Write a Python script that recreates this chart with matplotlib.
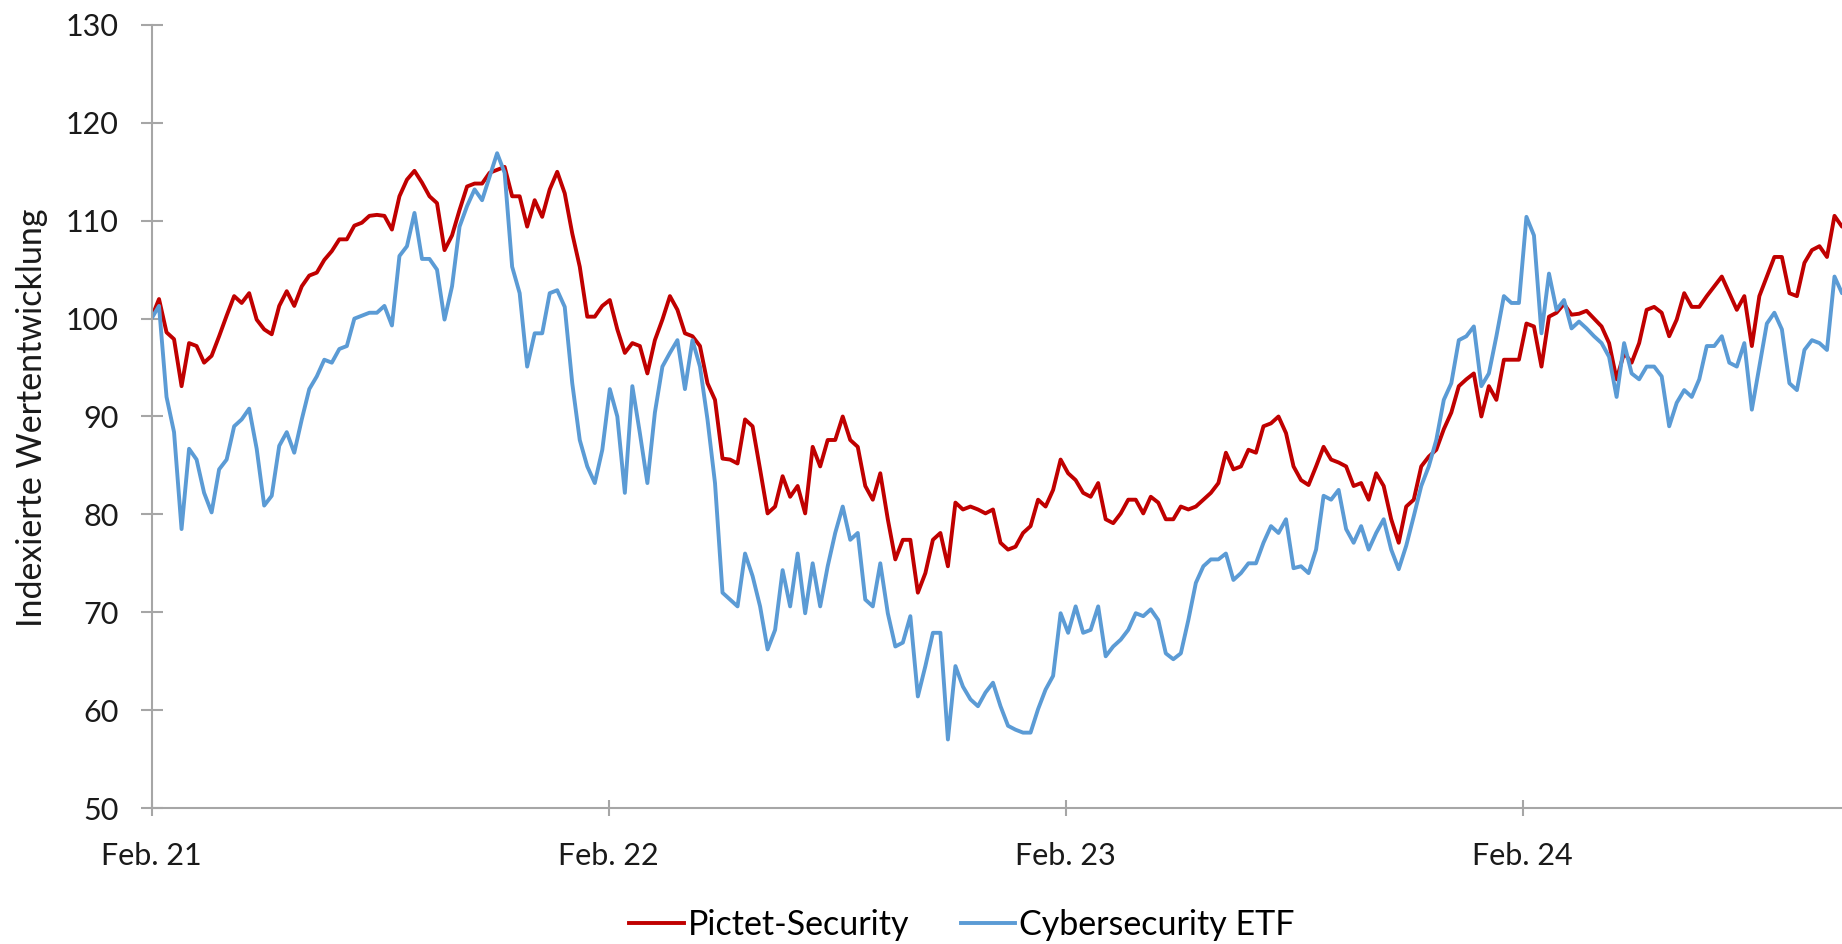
import matplotlib
matplotlib.use("Agg")
import matplotlib.pyplot as plt
import pandas as pd

start_date = "2021-02-01"
step = "6D"

pictet = [100.1, 102.0, 98.6, 97.9, 93.1, 97.5, 97.2, 95.5, 96.2, 98.2,
          100.3, 102.3, 101.6, 102.6, 99.9, 98.9, 98.4, 101.3, 102.8, 101.3,
          103.3, 104.4, 104.7, 106.0, 106.9, 108.1, 108.1, 109.5, 109.8, 110.5,
          110.6, 110.5, 109.1, 112.5, 114.2, 115.1, 113.9, 112.5, 111.8, 107.0,
          108.5, 111.1, 113.5, 113.8, 113.8, 114.9, 115.2, 115.5, 112.5, 112.5,
          109.4, 112.1, 110.4, 113.2, 115.0, 112.8, 108.7, 105.3, 100.2, 100.2,
          101.3, 101.9, 98.9, 96.5, 97.5, 97.2, 94.4, 97.8, 99.9, 102.3,
          100.9, 98.5, 98.2, 97.2, 93.4, 91.7, 85.7, 85.6, 85.2, 89.7,
          89.0, 84.6, 80.1, 80.8, 83.9, 81.8, 82.9, 80.1, 86.9, 84.9,
          87.6, 87.6, 90.0, 87.6, 86.9, 82.9, 81.5, 84.2, 79.5, 75.4,
          77.4, 77.4, 72.0, 74.0, 77.4, 78.1, 74.7, 81.2, 80.5, 80.8,
          80.5, 80.1, 80.5, 77.1, 76.4, 76.7, 78.1, 78.8, 81.5, 80.8,
          82.5, 85.6, 84.2, 83.5, 82.2, 81.8, 83.2, 79.5, 79.1, 80.1,
          81.5, 81.5, 80.1, 81.8, 81.2, 79.5, 79.5, 80.8, 80.5, 80.8,
          81.5, 82.2, 83.2, 86.3, 84.6, 84.9, 86.6, 86.3, 89.0, 89.3,
          90.0, 88.3, 84.9, 83.5, 83.0, 84.9, 86.9, 85.6, 85.3, 84.9,
          82.9, 83.2, 81.5, 84.2, 82.9, 79.5, 77.1, 80.8, 81.5, 84.9,
          85.9, 86.6, 88.7, 90.4, 93.1, 93.8, 94.4, 90.0, 93.1, 91.7,
          95.8, 95.8, 95.8, 99.5, 99.2, 95.1, 100.2, 100.6, 101.5, 100.4,
          100.5, 100.8, 100.0, 99.2, 97.5, 93.8, 96.5, 95.5, 97.5, 100.9,
          101.2, 100.6, 98.2, 99.9, 102.6, 101.2, 101.2, 102.3, 103.3, 104.3,
          102.6, 100.9, 102.3, 97.2, 102.3, 104.3, 106.3, 106.3, 102.6, 102.3,
          105.7, 107.0, 107.4, 106.3, 110.5, 109.4, 109.6]

etf = [100.0, 101.3, 92.0, 88.4, 78.5, 86.7, 85.6, 82.2, 80.2, 84.6,
       85.6, 89.0, 89.7, 90.8, 86.7, 80.9, 81.9, 87.0, 88.4, 86.3,
       89.7, 92.8, 94.1, 95.8, 95.5, 96.9, 97.2, 100.0, 100.3, 100.6,
       100.6, 101.3, 99.3, 106.4, 107.4, 110.8, 106.1, 106.1, 105.0, 99.9,
       103.3, 109.4, 111.5, 113.2, 112.1, 114.5, 116.9, 114.9, 105.3, 102.6,
       95.1, 98.5, 98.5, 102.6, 102.9, 101.2, 93.4, 87.6, 84.9, 83.2,
       86.6, 92.8, 90.0, 82.2, 93.1, 88.3, 83.2, 90.4, 95.1, 96.5,
       97.8, 92.8, 97.8, 95.1, 89.7, 83.2, 72.0, 71.3, 70.6, 76.0,
       73.7, 70.6, 66.2, 68.2, 74.3, 70.6, 76.0, 69.9, 75.0, 70.6,
       74.7, 78.1, 80.8, 77.4, 78.1, 71.3, 70.6, 75.0, 69.9, 66.5,
       66.9, 69.6, 61.4, 64.5, 67.9, 67.9, 57.0, 64.5, 62.4, 61.1,
       60.4, 61.8, 62.8, 60.4, 58.4, 58.0, 57.7, 57.7, 60.1, 62.1,
       63.5, 69.9, 67.9, 70.6, 67.9, 68.2, 70.6, 65.5, 66.5, 67.2,
       68.2, 69.9, 69.6, 70.3, 69.2, 65.8, 65.2, 65.8, 69.2, 73.0,
       74.7, 75.4, 75.4, 76.0, 73.3, 74.0, 75.0, 75.0, 77.1, 78.8,
       78.1, 79.5, 74.5, 74.7, 74.0, 76.4, 81.9, 81.5, 82.5, 78.5,
       77.1, 78.8, 76.4, 78.1, 79.5, 76.4, 74.4, 76.8, 79.8, 82.9,
       84.9, 87.6, 91.7, 93.4, 97.8, 98.2, 99.2, 93.1, 94.4, 98.2,
       102.3, 101.6, 101.6, 110.4, 108.5, 98.5, 104.6, 100.9, 101.9, 99.0,
       99.7, 99.0, 98.2, 97.5, 96.1, 92.0, 97.5, 94.4, 93.8, 95.1,
       95.1, 94.1, 89.0, 91.4, 92.7, 92.0, 93.8, 97.2, 97.2, 98.2,
       95.5, 95.1, 97.5, 90.7, 95.1, 99.5, 100.6, 98.9, 93.4, 92.7,
       96.8, 97.8, 97.5, 96.8, 104.3, 102.6, 102.8]

tick_dates = ["2021-02-01", "2022-02-01", "2023-02-01", "2024-02-01"]
tick_labels = ["Feb. 21", "Feb. 22", "Feb. 23", "Feb. 24"]
y_ticks = [50, 60, 70, 80, 90, 100, 110, 120, 130]
series_names = ["Pictet-Security", "Cybersecurity ETF"]
x_end = "2024-10-13"

dates = pd.date_range(start_date, periods=len(pictet), freq=step)

plt.rcParams["font.family"] = ["Lato", "DejaVu Sans"]

fig = plt.figure(figsize=(18.42, 9.44), dpi=100)
ax = fig.add_axes([151.5 / 1842, 1 - 808 / 944, 1 - 151.5 / 1842, (808 - 25) / 944])

ax.plot(dates, pictet, color="#C00000", lw=2.8, label=series_names[0])
ax.plot(dates, etf, color="#5B9BD5", lw=2.8, label=series_names[1])

ax.set_xlim(pd.Timestamp(start_date), pd.Timestamp(x_end))
ax.set_ylim(50, 130)
ax.set_yticks(y_ticks)
ax.set_xticks(pd.to_datetime(tick_dates))
ax.set_xticklabels(tick_labels)

for s in ["top", "right"]:
    ax.spines[s].set_visible(False)
for s in ["left", "bottom"]:
    ax.spines[s].set_color("#A6A6A6")
    ax.spines[s].set_linewidth(1.5)

ax.tick_params(axis="y", direction="inout", length=15.5, width=1.5, color="#A6A6A6",
               labelsize=22, pad=16, labelcolor="#1a1a1a")
ax.tick_params(axis="x", direction="inout", length=11.5, width=1.5, color="#A6A6A6",
               labelsize=22, pad=19, labelcolor="#1a1a1a")

fig.text(32 / 1842, 1 - 418 / 944, "Indexierte Wertentwicklung", rotation=90,
         ha="center", va="center", fontsize=24.5, color="#1a1a1a")

fig.legend(loc="center", bbox_to_anchor=(962 / 1842, 1 - 925 / 944), ncol=2,
           frameon=False, fontsize=24.5, handlelength=1.6, handletextpad=0.12,
           columnspacing=1.5)

fig.savefig("out.png", dpi=100)
